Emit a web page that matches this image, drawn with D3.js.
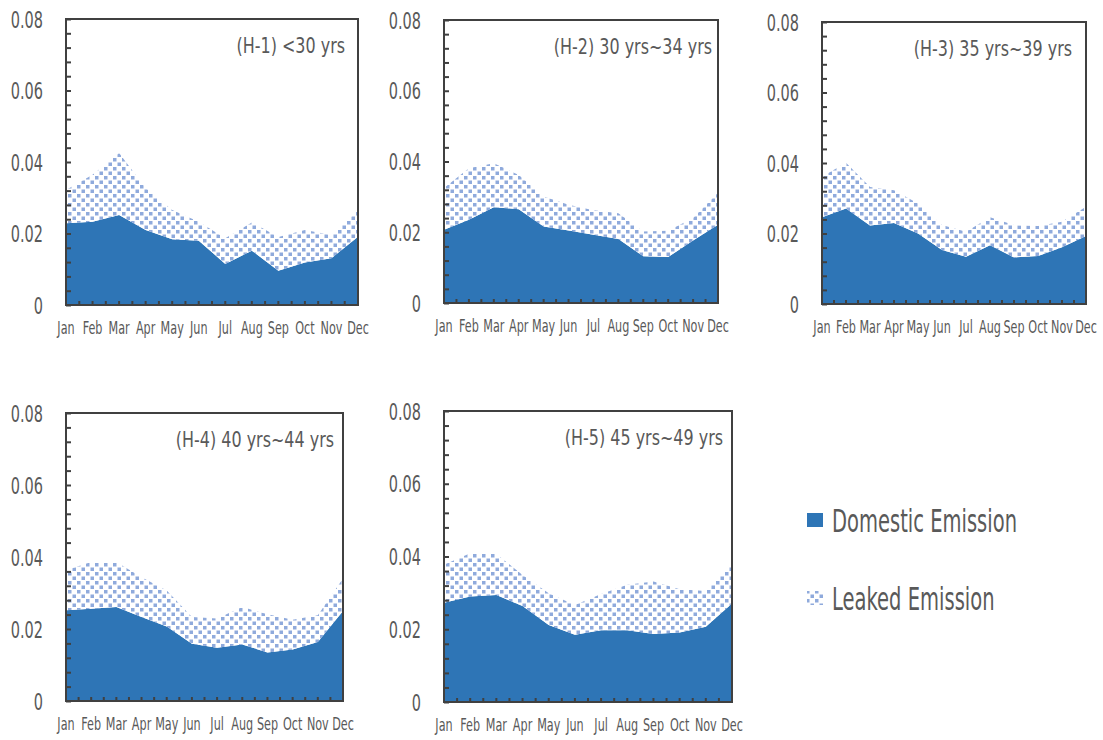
<!DOCTYPE html>
<html lang="en">
<head>
  <meta charset="UTF-8">
  <title>Emission by age group</title>
  <script src="https://d3js.org/d3.v7.min.js"></script>
  <style>
    body { margin: 0; background: #fff; }
    text { font-family: "DejaVu Sans", sans-serif; fill: #595959; }
  </style>
</head>
<body>
<svg id="chart" width="1103" height="740"></svg>
<script>
// data
var months = ["Jan","Feb","Mar","Apr","May","Jun","Jul","Aug","Sep","Oct","Nov","Dec"]
var titles = ["(H-1) <30 yrs", "(H-2) 30 yrs~34 yrs", "(H-3) 35 yrs~39 yrs", "(H-4) 40 yrs~44 yrs", "(H-5) 45 yrs~49 yrs"]
var yTicks = [0, 0.02, 0.04, 0.06, 0.08]

var domestic = [
  [0.0229, 0.0233, 0.0252, 0.0210, 0.0184, 0.0180, 0.0115, 0.0152, 0.0096, 0.0119, 0.0131, 0.0191],
  [0.0207, 0.0235, 0.0271, 0.0265, 0.0216, 0.0205, 0.0193, 0.0181, 0.0132, 0.0130, 0.0177, 0.0221],
  [0.0246, 0.0271, 0.0223, 0.0230, 0.0200, 0.0153, 0.0134, 0.0167, 0.0132, 0.0136, 0.0161, 0.0193],
  [0.0252, 0.0256, 0.0261, 0.0233, 0.0207, 0.0159, 0.0148, 0.0157, 0.0135, 0.0143, 0.0164, 0.0250],
  [0.0273, 0.0290, 0.0294, 0.0264, 0.0212, 0.0185, 0.0197, 0.0197, 0.0187, 0.0191, 0.0207, 0.0271]
]
var leaked = [
  [0.0093, 0.0131, 0.0173, 0.0117, 0.0082, 0.0053, 0.0072, 0.0079, 0.0094, 0.0091, 0.0065, 0.0073],
  [0.0118, 0.0146, 0.0124, 0.0097, 0.0085, 0.0073, 0.0069, 0.0073, 0.0070, 0.0074, 0.0063, 0.0091],
  [0.0115, 0.0130, 0.0109, 0.0093, 0.0085, 0.0071, 0.0071, 0.0079, 0.0092, 0.0085, 0.0072, 0.0083],
  [0.0111, 0.0130, 0.0125, 0.0111, 0.0100, 0.0074, 0.0081, 0.0104, 0.0106, 0.0083, 0.0074, 0.0090],
  [0.0104, 0.0119, 0.0113, 0.0085, 0.0087, 0.0082, 0.0100, 0.0125, 0.0144, 0.0119, 0.0098, 0.0110]
]

var seriesNames = ["Domestic Emission", "Leaked Emission"]
var blue = "#2e75b6"
var dotBlue = "#8faadc"
var axisCol = "#404040"

// plot boxes of the five panels (titleInset = gap between title end and right frame)
var panels = [
  {left: 66,  right: 358,  top: 19,  bottom: 305, titleInset: 13},
  {left: 444, right: 718,  top: 20,  bottom: 303, titleInset: 6},
  {left: 822, right: 1086, top: 22,  bottom: 304, titleInset: 14},
  {left: 66,  right: 343,  top: 413, bottom: 701, titleInset: 9},
  {left: 444, right: 732,  top: 411, bottom: 702, titleInset: 9}
]

const svg = d3.select("#chart")

// the original font is very narrow, so squeeze DejaVu horizontally
function label(parent, x, y, size, sx, anchor, str) {
  return parent.append("text")
    .attr("transform", `translate(${x},${y}) scale(${sx},1)`)
    .attr("font-size", size)
    .attr("text-anchor", anchor)
    .text(str)
}

const defs = svg.append("defs")
const pat = defs.append("pattern")
    .attr("id", "dots")
    .attr("patternUnits", "userSpaceOnUse")
    .attr("width", 9).attr("height", 9)
pat.append("rect").attr("width", 9).attr("height", 9).attr("fill", "#fff")
pat.append("rect").attr("x", 0.5).attr("y", 0.5).attr("width", 3.5).attr("height", 3.5).attr("fill", dotBlue)
pat.append("rect").attr("x", 5).attr("y", 5).attr("width", 3.5).attr("height", 3.5).attr("fill", dotBlue)

const fills = [blue, "url(#dots)"]

panels.forEach(function(p, i) {
  const x = d3.scalePoint().domain(months).range([p.left, p.right])
  const y = d3.scaleLinear().domain([0, 0.08]).range([p.bottom, p.top])

  const rows = months.map((m, j) => ({month: m, dom: domestic[i][j], leak: leaked[i][j]}))
  const stacked = d3.stack().keys(["dom", "leak"])(rows)

  const area = d3.area()
    .x(d => x(d.data.month))
    .y0(d => y(d[0]))
    .y1(d => y(d[1]))

  const g = svg.append("g")

  g.selectAll("path.layer")
    .data(stacked)
    .join("path")
      .attr("class", "layer")
      .attr("fill", (d, k) => fills[k])
      .attr("d", area)

  // frame
  g.append("rect")
    .attr("x", p.left).attr("y", p.top)
    .attr("width", p.right - p.left).attr("height", p.bottom - p.top)
    .attr("fill", "none").attr("stroke", axisCol).attr("stroke-width", 2)

  // y axis: minor ticks inside every 0.004, labels every 0.02
  const yAxis = d3.axisLeft(y)
    .tickValues(d3.range(0, 0.0801, 0.004))
    .tickSize(-5)
    .tickFormat("")
  g.append("g")
    .attr("transform", `translate(${p.left},0)`)
    .call(yAxis)
    .call(a => a.select(".domain").remove())
    .call(a => a.selectAll("line").attr("stroke", axisCol).attr("stroke-width", 2))

  yTicks.forEach(t => label(g, p.left - 23, y(t) + 8.5, 23, 0.63, "end", t === 0 ? "0" : d3.format(".2f")(t)))

  // x axis: ticks at every half month, inside
  const step = x.step()
  const xt = d3.range(0, months.length * 2 - 1).map(k => p.left + k * step / 2)
  g.append("g").selectAll("line")
    .data(xt)
    .join("line")
      .attr("x1", d => d).attr("x2", d => d)
      .attr("y1", p.bottom).attr("y2", p.bottom - 4)
      .attr("stroke", axisCol).attr("stroke-width", 2)

  months.forEach(m => label(g, x(m), p.bottom + 29, 17.5, 0.64, "middle", m))

  label(g, p.right - p.titleInset, p.top + 34, 21, 0.76, "end", titles[i])
})

// legend
const leg = svg.append("g")
seriesNames.forEach(function(name, k) {
  const cy = 520 + k * 78
  leg.append("rect")
    .attr("x", 807).attr("y", cy - 7)
    .attr("width", 16).attr("height", 14)
    .attr("fill", fills[k])
  label(leg, 832, cy + 12, 32, 0.61, "start", name)
})
</script>
</body>
</html>
